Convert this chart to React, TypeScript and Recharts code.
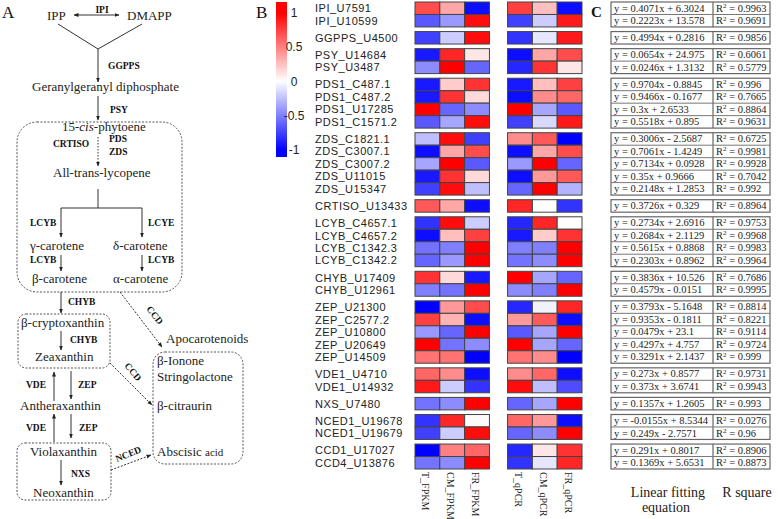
import React from 'react';
import { ScatterChart, Scatter, XAxis, YAxis } from 'recharts';

// genes in heatmap order, split into groups by gene family
const genes = [
  'IPI_U7591', 'IPI_U10599', 'GGPPS_U4500', 'PSY_U14684', 'PSY_U3487',
  'PDS1_C487.1', 'PDS1_C487.2', 'PDS1_U17285', 'PDS1_C1571.2',
  'ZDS_C1821.1', 'ZDS_C3007.1', 'ZDS_C3007.2', 'ZDS_U11015', 'ZDS_U15347',
  'CRTISO_U13433', 'LCYB_C4657.1', 'LCYB_C4657.2', 'LCYB_C1342.3', 'LCYB_C1342.2',
  'CHYB_U17409', 'CHYB_U12961', 'ZEP_U21300', 'ZEP_C2577.2', 'ZEP_U10800',
  'ZEP_U20649', 'ZEP_U14509', 'VDE1_U4710', 'VDE1_U14932', 'NXS_U7480',
  'NCED1_U19678', 'NCED1_U19679', 'CCD1_U17027', 'CCD4_U13876',
];
const groupSizes = [2, 1, 2, 4, 5, 1, 4, 2, 5, 2, 1, 2, 2];
const sampleLabels = ['T_FPKM', 'CM_FPKM', 'FR_FPKM', 'T_qPCR', 'CM_qPCR', 'FR_qPCR'];

// scaled expression
const tFpkm = [0.7, -0.65, -0.75, -0.9, -0.45, -0.9, -0.9, 1.0, -0.65, -0.25, -0.95, -0.35, -0.9, -0.75, 0.65, -0.8, -0.95, -0.55, -0.6, 0.8, -0.5, -1.0, 0.75, -0.4, 1.0, 0.55, 0.6, 0.9, -0.55, -0.8, -0.75, -1.0, -0.55];
const cmFpkm = [0.35, -0.4, -0.2, 0.85, 1.0, 0.2, 0.8, -0.6, -0.35, 0.95, 0.35, 1.0, 0.8, 0.95, 0.35, 0.95, 0.25, -0.5, -0.4, 0.15, -0.55, 0.4, 0.3, -0.6, -0.55, 0.55, 0.45, -0.2, -0.45, 0.85, -0.2, 0.5, -0.45];
const frFpkm = [-0.95, 0.95, 0.95, 0.1, -0.6, 0.8, 0.15, -0.45, 0.95, -0.75, 0.7, -0.65, 0.15, -0.25, -0.95, -0.2, 0.75, 1.0, 1.0, -0.9, 1.0, 0.7, -0.95, 1.0, -0.45, -1.0, -0.95, -0.8, 1.0, 0.02, 0.95, 0.6, 1.0];
const tQpcr = [0.75, -0.75, -0.8, -0.95, -0.85, -0.9, -0.95, 1.0, -0.75, 0.45, -0.95, -0.4, -0.95, -0.6, 0.85, -0.85, -0.9, -0.5, -0.55, 1.0, -0.45, -0.85, 0.4, -0.65, 1.0, 0.55, 0.45, 0.95, -0.6, 0.6, -0.6, -0.85, -0.8];
const cmQpcr = [0.25, -0.2, -0.1, 0.35, 0.8, 0.25, 0.45, -0.35, -0.15, 0.65, 0.35, 1.0, 0.4, 1.0, 0.0, 0.85, 0.2, -0.5, -0.45, -0.35, -0.5, -0.05, 0.65, -0.35, -0.35, 0.45, 0.6, -0.25, -0.35, 0.4, -0.45, 0.1, -0.1];
const frQpcr = [-0.95, 0.9, 0.9, 0.7, 0.1, 0.75, 0.6, -0.65, 0.9, -1.0, 0.7, -0.6, 0.65, -0.3, -0.8, 0.0, 0.8, 1.0, 1.0, -0.6, 1.0, 0.85, -0.95, 1.0, -0.6, -1.0, -0.95, -0.7, 1.0, -0.95, 1.0, 0.8, 0.85];

const equations = [
  'y = 0.4071x + 6.3024', 'y = 0.2223x + 13.578', 'y = 0.4994x + 0.2816', 'y = 0.0654x + 24.975',
  'y = 0.0246x + 1.3132', 'y = 0.9704x - 0.8845', 'y = 0.9466x - 0.1677', 'y = 0.3x + 2.6533',
  'y = 0.5518x + 0.895', 'y = 0.3006x - 2.5687', 'y = 0.7061x - 1.4249', 'y = 0.7134x + 0.0928',
  'y = 0.35x + 0.9666', 'y = 0.2148x + 1.2853', 'y = 0.3726x + 0.329', 'y = 0.2734x + 2.6916',
  'y = 0.2684x + 2.1129', 'y = 0.5615x + 0.8868', 'y = 0.2303x + 0.8962', 'y = 0.3836x + 10.526',
  'y = 0.4579x - 0.0151', 'y = 0.3793x - 5.1648', 'y = 0.9353x - 0.1811', 'y = 0.0479x + 23.1',
  'y = 0.4297x + 4.757', 'y = 0.3291x + 2.1437', 'y = 0.273x + 0.8577', 'y = 0.373x + 3.6741',
  'y = 0.1357x + 1.2605', 'y = -0.0155x + 8.5344', 'y = 0.249x - 2.7571', 'y = 0.291x + 0.8017',
  'y = 0.1369x + 5.6531',
];
const rSquares = [
  '0.9963', '0.9691', '0.9856', '0.6061', '0.5779', '0.996', '0.7665', '0.8864', '0.9631',
  '0.6725', '0.9981', '0.9928', '0.7042', '0.992', '0.8964', '0.9753', '0.9968', '0.9983',
  '0.9964', '0.7686', '0.9995', '0.8814', '0.8221', '0.9114', '0.9724', '0.999', '0.9731',
  '0.9943', '0.993', '0.0276', '0.96', '0.8906', '0.8873',
];
const legendTicks = [1, 0.5, 0, -0.5, -1];

// layout
const ROW_GAP = 0.37;
const COL_GAP = 0.73;
const CHART_W = 315;
const CHART_H = 519;
const M_TOP = 2;
const M_RIGHT = 3;
const Y_AXIS_W = 145;
const X_AXIS_H = 50;
const PLOT_W = CHART_W - Y_AXIS_W - M_RIGHT;
const PLOT_H = CHART_H - M_TOP - X_AXIS_H;

const groupOf: number[] = [];
groupSizes.forEach((n, g) => { for (let k = 0; k < n; k++) groupOf.push(g); });
const rowStart = genes.map((_, i) => i + groupOf[i] * ROW_GAP);
const Y_SPAN = genes.length + (groupSizes.length - 1) * ROW_GAP;
const X_SPAN = 6 + COL_GAP;
const colStart = sampleLabels.map((_, c) => c + (c >= 3 ? COL_GAP : 0));
const rowCenters = rowStart.map((s) => s + 0.5);
const colCenters = colStart.map((s) => s + 0.5);
const cellW = PLOT_W / X_SPAN;
const cellH = PLOT_H / Y_SPAN;

const series = [tFpkm, cmFpkm, frFpkm, tQpcr, cmQpcr, frQpcr];
const cells = genes.flatMap((g, r) =>
  series.map((vals, c) => ({ x: colCenters[c], y: rowCenters[r], v: vals[r], gene: g }))
);

const heat = (v: number) => {
  const t = Math.max(-1, Math.min(1, v));
  if (t >= 0) {
    const k = Math.round(255 * (1 - t));
    return `rgb(255,${k},${k})`;
  }
  const k = Math.round(255 * (1 + t));
  return `rgb(${k},${k},255)`;
};

const SERIF = '"Liberation Serif", "Times New Roman", serif';
const SANS = '"Liberation Sans", Arial, sans-serif';

const CellShape = (props: any) => {
  const { cx, cy, payload } = props;
  return (
    <rect x={cx - cellW / 2} y={cy - cellH / 2} width={cellW} height={cellH}
      fill={heat(payload.v)} stroke="#444" strokeWidth={1} />
  );
};

const GeneTick = (props: any) => {
  const { y, payload } = props;
  const idx = rowCenters.findIndex((c) => Math.abs(c - payload.value) < 1e-6);
  return (
    <text x={45} y={y} dy={4} fontSize={11} letterSpacing={0.5} fontFamily={SANS} fill="#222">
      {genes[idx]}
    </text>
  );
};

const SampleTick = (props: any) => {
  const { x, payload } = props;
  const idx = colCenters.findIndex((c) => Math.abs(c - payload.value) < 1e-6);
  return (
    <text transform={`translate(${x - 5},${M_TOP + PLOT_H + 3}) rotate(90)`}
      fontSize={10} fontFamily={SERIF} fill="#222">
      {sampleLabels[idx]}
    </text>
  );
};

// pixel helpers for the table, which shares the heatmap rows
const rowTopPx = (i: number) => M_TOP + rowStart[i] * cellH;
const legendY = (v: number) => 81.5 - 68.5 * v;

function Pathway() {
  const enz = { fontSize: 9.5, fontWeight: 700, fontFamily: SERIF, fill: '#111' } as const;
  const lbl = { fontSize: 13, fontFamily: SERIF, fill: '#222' } as const;
  const ln = { stroke: '#333', strokeWidth: 1 } as const;
  const box = { fill: 'none', stroke: '#555', strokeWidth: 1, strokeDasharray: '2 1.5' } as const;
  return (
    <g>
      <text x={47} y={20} {...lbl}>IPP</text>
      <text x={127} y={20} {...lbl}>DMAPP</text>
      <text x={102} y={13} textAnchor="middle" {...enz}>IPI</text>
      <line x1={74} y1={15} x2={119} y2={15} {...ln} markerStart="url(#ah)" markerEnd="url(#ah)" />
      <line x1={58} y1={24} x2={98} y2={49} {...ln} />
      <line x1={142} y1={24} x2={98} y2={49} {...ln} />
      <line x1={98} y1={49} x2={98} y2={82} {...ln} markerEnd="url(#ah)" />
      <text x={108} y={69} {...enz}>GGPPS</text>
      <text x={32} y={91} {...lbl}>Geranylgeranyl diphosphate</text>
      <line x1={98} y1={96} x2={98} y2={120} {...ln} markerEnd="url(#ah)" />
      <text x={110} y={113} {...enz}>PSY</text>

      <rect x={17} y={122} width={165} height={170} rx={20} {...box} />
      <text x={62} y={131} {...lbl}>15-<tspan fontStyle="italic">cis</tspan>-phytoene</text>
      <line x1={98} y1={137} x2={98} y2={166} {...ln} strokeDasharray="1.5 1.5" markerEnd="url(#ah)" />
      <text x={53} y={147} {...enz}>CRTISO</text>
      <text x={109} y={142} {...enz}>PDS</text>
      <text x={109} y={155} {...enz}>ZDS</text>
      <text x={53} y={177} {...lbl}>All-trans-lycopene</text>
      <line x1={98} y1={189} x2={98} y2={208} {...ln} />
      <line x1={61} y1={208} x2={142} y2={208} {...ln} />
      <line x1={61} y1={208} x2={61} y2={237} {...ln} markerEnd="url(#ah)" />
      <line x1={142} y1={208} x2={142} y2={237} {...ln} markerEnd="url(#ah)" />
      <text x={30} y={226} {...enz}>LCYB</text>
      <text x={148} y={226} {...enz}>LCYE</text>
      <text x={30} y={250} {...lbl}>γ-carotene</text>
      <text x={113} y={250} {...lbl}>δ-carotene</text>
      <line x1={61} y1={255} x2={61} y2={271} {...ln} markerEnd="url(#ah)" />
      <line x1={142} y1={255} x2={142} y2={271} {...ln} markerEnd="url(#ah)" />
      <text x={30} y={263} {...enz}>LCYB</text>
      <text x={148} y={263} {...enz}>LCYB</text>
      <text x={32} y={283} {...lbl}>β-carotene</text>
      <text x={113} y={283} {...lbl}>α-carotene</text>

      <line x1={61} y1={292} x2={61} y2={313} {...ln} markerEnd="url(#ah)" />
      <text x={68} y={305} {...enz}>CHYB</text>
      <line x1={120} y1={292} x2={162} y2={347} {...ln} strokeDasharray="2 1.5" markerEnd="url(#ah)" />
      <text transform="translate(146,309) rotate(52)" {...enz}>CCD</text>

      <rect x={18} y={314} width={92} height={54} rx={8} {...box} />
      <text x={21} y={327} {...lbl}>β-cryptoxanthin</text>
      <line x1={61} y1={331} x2={61} y2={350} {...ln} markerEnd="url(#ah)" />
      <text x={70} y={343} {...enz}>CHYB</text>
      <text x={35} y={361} {...lbl}>Zeaxanthin</text>

      <text x={166} y={343} {...lbl}>Apocarotenoids</text>
      <rect x={153} y={352} width={90} height={112} rx={12} {...box} />
      <text x={157} y={365} {...lbl}>β-Ionone</text>
      <text x={157} y={381} {...lbl}>Stringolactone</text>
      <text x={157} y={410} {...lbl}>β-citraurin</text>
      <text x={157} y={456} {...lbl}>Abscisic <tspan fontSize={11}>acid</tspan></text>
      <line x1={110} y1={363} x2={152} y2={405} {...ln} strokeDasharray="2 1.5" markerEnd="url(#ah)" />
      <text transform="translate(124,366) rotate(50)" {...enz}>CCD</text>

      <line x1={54} y1={401} x2={54} y2={372} {...ln} markerEnd="url(#ah)" />
      <line x1={71} y1={371} x2={71} y2={399} {...ln} markerEnd="url(#ah)" />
      <text x={26} y={388} {...enz}>VDE</text>
      <text x={78} y={388} {...enz}>ZEP</text>
      <text x={20} y={410} {...lbl}>Antheraxanthin</text>
      <line x1={54} y1={442} x2={54} y2={414} {...ln} markerEnd="url(#ah)" />
      <line x1={71} y1={414} x2={71} y2={438} {...ln} markerEnd="url(#ah)" />
      <text x={26} y={431} {...enz}>VDE</text>
      <text x={79} y={431} {...enz}>ZEP</text>

      <rect x={17} y={443} width={94} height={57} rx={8} {...box} />
      <text x={30} y={456} {...lbl}>Violaxanthin</text>
      <line x1={61} y1={460} x2={61} y2={485} {...ln} markerEnd="url(#ah)" />
      <text x={71} y={477} {...enz}>NXS</text>
      <text x={33} y={497} {...lbl}>Neoxanthin</text>
      <line x1={111} y1={470} x2={151} y2={455} {...ln} strokeDasharray="2 1.5" markerEnd="url(#ah)" />
      <text transform="translate(117,462) rotate(-22)" {...enz}>NCED</text>
    </g>
  );
}

function Legend() {
  return (
    <g>
      <rect x={276} y={2} width={11} height={155} fill="url(#heatGrad)" />
      {legendTicks.map((t) => (
        <text key={t} x={294} y={legendY(t) + 4} textAnchor="middle" fontSize={12} fontFamily={SANS} fill="#222">
          {t}
        </text>
      ))}
    </g>
  );
}

function FitTable() {
  const x0 = 611, xm = 713, x1 = 770;
  let r = 0;
  const groups = groupSizes.map((n, g) => {
    const first = r;
    r += n;
    const top = rowTopPx(first);
    const bottom = rowTopPx(first + n - 1) + cellH;
    const rows = [];
    for (let i = first; i < first + n; i++) {
      const y = rowTopPx(i);
      rows.push(
        <g key={i}>
          {i > first && <line x1={x0} y1={y} x2={x1} y2={y} stroke="#777" strokeWidth={1} />}
          <text x={x0 + 3} y={y + 9.6} fontSize={10.5} fontFamily={SERIF} fill="#222">{equations[i]}</text>
          <text x={xm + 3} y={y + 9.6} fontSize={10.5} fontFamily={SERIF} fill="#222">
            R<tspan fontSize={7} dy={-3.5}>2</tspan><tspan dy={3.5}> = {rSquares[i]}</tspan>
          </text>
        </g>
      );
    }
    return (
      <g key={g}>
        <rect x={x0} y={top} width={x1 - x0} height={bottom - top} fill="none" stroke="#666" strokeWidth={1.2} />
        <line x1={xm} y1={top} x2={xm} y2={bottom} stroke="#666" strokeWidth={1.2} />
        {rows}
      </g>
    );
  });
  return (
    <g>
      {groups}
      <text x={668} y={497} textAnchor="middle" fontSize={14} fontFamily={SERIF} fill="#222">Linear fitting</text>
      <text x={666} y={512} textAnchor="middle" fontSize={14} fontFamily={SERIF} fill="#222">equation</text>
      <text x={747} y={497} textAnchor="middle" fontSize={14} fontFamily={SERIF} fill="#222">R square</text>
    </g>
  );
}

export default function App() {
  return (
    <div style={{ position: 'absolute', left: 0, top: 0, width: 778, height: 519, background: '#fff' }}>
      <svg width={778} height={519} style={{ position: 'absolute', left: 0, top: 0 }}>
        <defs>
          <marker id="ah" viewBox="0 0 10 10" refX="9" refY="5" markerWidth="5" markerHeight="5" orient="auto-start-reverse">
            <path d="M0,1 L10,5 L0,9 z" fill="#222" />
          </marker>
          <linearGradient id="heatGrad" x1="0" y1="0" x2="0" y2="1">
            <stop offset="0%" stopColor="#ff0000" />
            <stop offset="7%" stopColor="#ff0000" />
            <stop offset="51%" stopColor="#ffffff" />
            <stop offset="95.5%" stopColor="#0000ff" />
            <stop offset="100%" stopColor="#0000ff" />
          </linearGradient>
        </defs>
        <text x={2} y={18} fontSize={17} fontFamily={SERIF} fill="#111">A</text>
        <text x={256} y={18} fontSize={17} fontFamily={SERIF} fill="#111">B</text>
        <text x={591} y={17} fontSize={15} fontFamily={SERIF} fontWeight={700} fill="#111">C</text>
        <Pathway />
        <Legend />
        <FitTable />
      </svg>
      <div style={{ position: 'absolute', left: 270, top: 0 }}>
        <ScatterChart width={CHART_W} height={CHART_H} margin={{ top: M_TOP, right: M_RIGHT, bottom: 0, left: 0 }}>
          <XAxis type="number" dataKey="x" domain={[0, X_SPAN]} ticks={colCenters} interval={0}
            tick={<SampleTick />} axisLine={false} tickLine={false} height={X_AXIS_H} />
          <YAxis type="number" dataKey="y" domain={[0, Y_SPAN]} reversed ticks={rowCenters} interval={0}
            tick={<GeneTick />} axisLine={false} tickLine={false} width={Y_AXIS_W} />
          <Scatter data={cells} shape={<CellShape />} isAnimationActive={false} />
        </ScatterChart>
      </div>
    </div>
  );
}
